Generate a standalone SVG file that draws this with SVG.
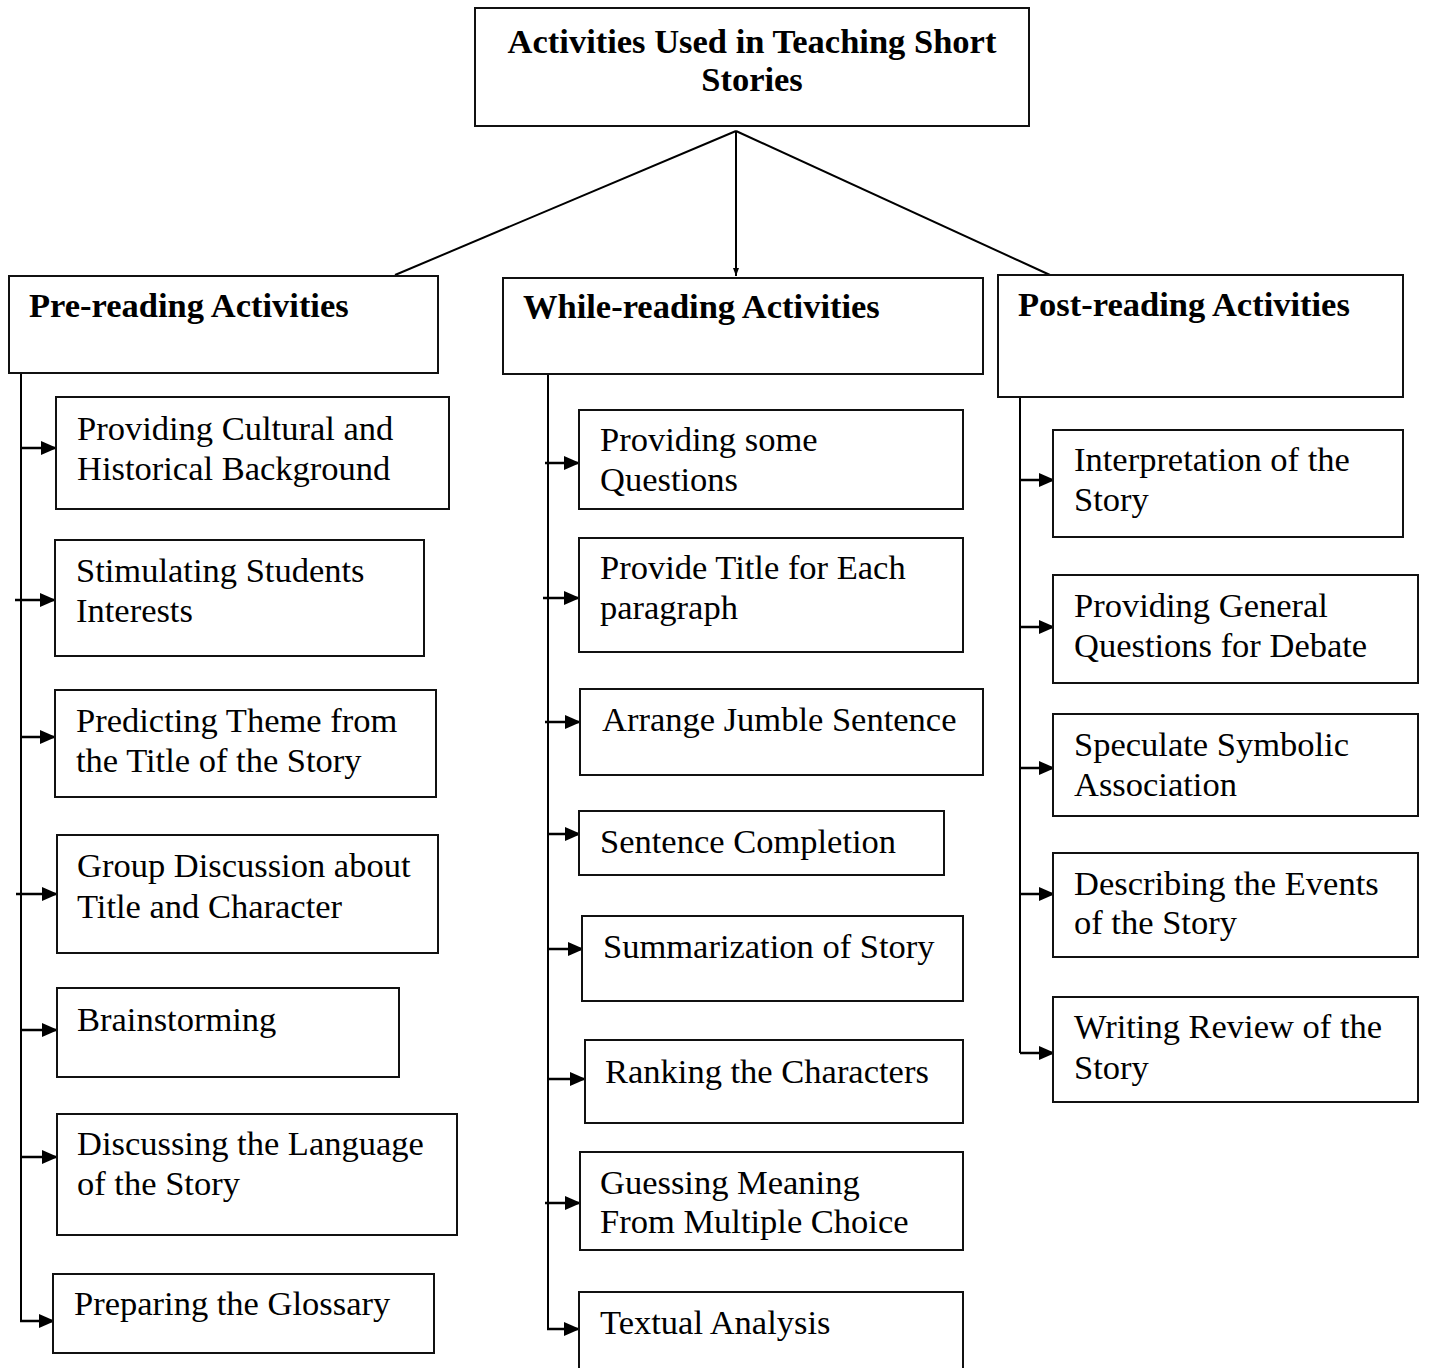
<svg xmlns="http://www.w3.org/2000/svg" width="1429" height="1368" viewBox="0 0 1429 1368">
<style>
.box{fill:#fff;stroke:#111;stroke-width:2}
.t{font-family:"Liberation Serif","Times New Roman",serif;font-size:34.5px;fill:#000}
.b{font-weight:bold}
.ln{stroke:#000;stroke-width:2;fill:none}
.ar{stroke:#000;stroke-width:2.5;fill:none;marker-end:url(#ah)}
</style>
<defs>
<marker id="ah" markerUnits="userSpaceOnUse" markerWidth="16" markerHeight="14" refX="16" refY="7" orient="auto">
<path d="M0,0 L16,7 L0,14 z" fill="#000"/>
</marker>
<marker id="ahs" markerUnits="userSpaceOnUse" markerWidth="8" markerHeight="6" refX="8" refY="3" orient="auto">
<path d="M0,0 L8,3 L0,6 z" fill="#000"/>
</marker>
</defs>
<rect width="1429" height="1368" fill="#fff"/>

<g id="connectors">
<line class="ln" x1="736" y1="131" x2="395" y2="275"/>
<line class="ln" x1="736" y1="131" x2="736" y2="276" marker-end="url(#ahs)"/>
<line class="ln" x1="736" y1="131" x2="1050" y2="275"/>
<polyline class="ln" points="21,366 21,1321"/>
<line class="ar" x1="21" y1="448" x2="57" y2="448"/>
<line class="ar" x1="15" y1="600" x2="56" y2="600"/>
<line class="ar" x1="21" y1="737" x2="56" y2="737"/>
<line class="ar" x1="16" y1="894" x2="58" y2="894"/>
<line class="ar" x1="21" y1="1030" x2="58" y2="1030"/>
<line class="ar" x1="21" y1="1157" x2="58" y2="1157"/>
<line class="ar" x1="20" y1="1321" x2="55" y2="1321"/>
<polyline class="ln" points="548,374 548,1329"/>
<line class="ar" x1="545" y1="463" x2="580" y2="463"/>
<line class="ar" x1="543" y1="598" x2="580" y2="598"/>
<line class="ar" x1="545" y1="722" x2="581" y2="722"/>
<line class="ar" x1="548" y1="834" x2="581" y2="834"/>
<line class="ar" x1="548" y1="949" x2="584" y2="949"/>
<line class="ar" x1="548" y1="1079" x2="586" y2="1079"/>
<line class="ar" x1="545" y1="1203" x2="581" y2="1203"/>
<line class="ar" x1="547" y1="1329" x2="580" y2="1329"/>
<polyline class="ln" points="1020,392 1020,1053"/>
<line class="ar" x1="1020" y1="480" x2="1055" y2="480"/>
<line class="ar" x1="1020" y1="627" x2="1055" y2="627"/>
<line class="ar" x1="1020" y1="768" x2="1055" y2="768"/>
<line class="ar" x1="1020" y1="894" x2="1055" y2="894"/>
<line class="ar" x1="1020" y1="1053" x2="1055" y2="1053"/>
</g>

<g id="root">
<rect class="box" x="475" y="8" width="554" height="118"/>
<text class="t b" x="752" y="53" text-anchor="middle">Activities Used in Teaching Short</text>
<text class="t b" x="752" y="91" text-anchor="middle">Stories</text>
</g>

<g id="pre">
<rect class="box" x="9" y="276" width="429" height="97"/>
<text class="t b" x="29" y="317">Pre-reading Activities</text>
</g>
<g id="while">
<rect class="box" x="503" y="278" width="480" height="96"/>
<text class="t b" x="523" y="318">While-reading Activities</text>
</g>
<g id="post">
<rect class="box" x="998" y="275" width="405" height="122"/>
<text class="t b" x="1018" y="316">Post-reading Activities</text>
</g>

<g id="pre1"><rect class="box" x="56" y="397" width="393" height="112"/>
<text class="t" x="77" y="440">Providing Cultural and</text><text class="t" x="77" y="480">Historical Background</text></g>
<g id="pre2"><rect class="box" x="55" y="540" width="369" height="116"/>
<text class="t" x="76" y="582">Stimulating Students</text><text class="t" x="76" y="622">Interests</text></g>
<g id="pre3"><rect class="box" x="55" y="690" width="381" height="107"/>
<text class="t" x="76" y="732">Predicting Theme from</text><text class="t" x="76" y="772">the Title of the Story</text></g>
<g id="pre4"><rect class="box" x="57" y="835" width="381" height="118"/>
<text class="t" x="77" y="877">Group Discussion about</text><text class="t" x="77" y="918">Title and Character</text></g>
<g id="pre5"><rect class="box" x="57" y="988" width="342" height="89"/>
<text class="t" x="77" y="1031">Brainstorming</text></g>
<g id="pre6"><rect class="box" x="57" y="1114" width="400" height="121"/>
<text class="t" x="77" y="1155">Discussing the Language</text><text class="t" x="77" y="1195">of the Story</text></g>
<g id="pre7"><rect class="box" x="53" y="1274" width="381" height="79"/>
<text class="t" x="74" y="1315">Preparing the Glossary</text></g>

<g id="while1"><rect class="box" x="579" y="410" width="384" height="99"/>
<text class="t" x="600" y="451">Providing some</text><text class="t" x="600" y="491">Questions</text></g>
<g id="while2"><rect class="box" x="579" y="538" width="384" height="114"/>
<text class="t" x="600" y="579">Provide Title for Each</text><text class="t" x="600" y="619">paragraph</text></g>
<g id="while3"><rect class="box" x="580" y="689" width="403" height="86"/>
<text class="t" x="602" y="731">Arrange Jumble Sentence</text></g>
<g id="while4"><rect class="box" x="579" y="811" width="365" height="64"/>
<text class="t" x="600" y="853">Sentence Completion</text></g>
<g id="while5"><rect class="box" x="582" y="916" width="381" height="85"/>
<text class="t" x="603" y="958">Summarization of Story</text></g>
<g id="while6"><rect class="box" x="585" y="1040" width="378" height="83"/>
<text class="t" x="605" y="1083">Ranking the Characters</text></g>
<g id="while7"><rect class="box" x="580" y="1152" width="383" height="98"/>
<text class="t" x="600" y="1194">Guessing Meaning</text><text class="t" x="600" y="1233">From Multiple Choice</text></g>
<g id="while8"><rect class="box" x="579" y="1292" width="384" height="90"/>
<text class="t" x="600" y="1334">Textual Analysis</text></g>

<g id="post1"><rect class="box" x="1053" y="430" width="350" height="107"/>
<text class="t" x="1074" y="471">Interpretation of the</text><text class="t" x="1074" y="511">Story</text></g>
<g id="post2"><rect class="box" x="1053" y="575" width="365" height="108"/>
<text class="t" x="1074" y="617">Providing General</text><text class="t" x="1074" y="657">Questions for Debate</text></g>
<g id="post3"><rect class="box" x="1053" y="714" width="365" height="102"/>
<text class="t" x="1074" y="756">Speculate Symbolic</text><text class="t" x="1074" y="796">Association</text></g>
<g id="post4"><rect class="box" x="1053" y="853" width="365" height="104"/>
<text class="t" x="1074" y="895">Describing the Events</text><text class="t" x="1074" y="934">of the Story</text></g>
<g id="post5"><rect class="box" x="1053" y="997" width="365" height="105"/>
<text class="t" x="1074" y="1038">Writing Review of the</text><text class="t" x="1074" y="1079">Story</text></g>
</svg>
